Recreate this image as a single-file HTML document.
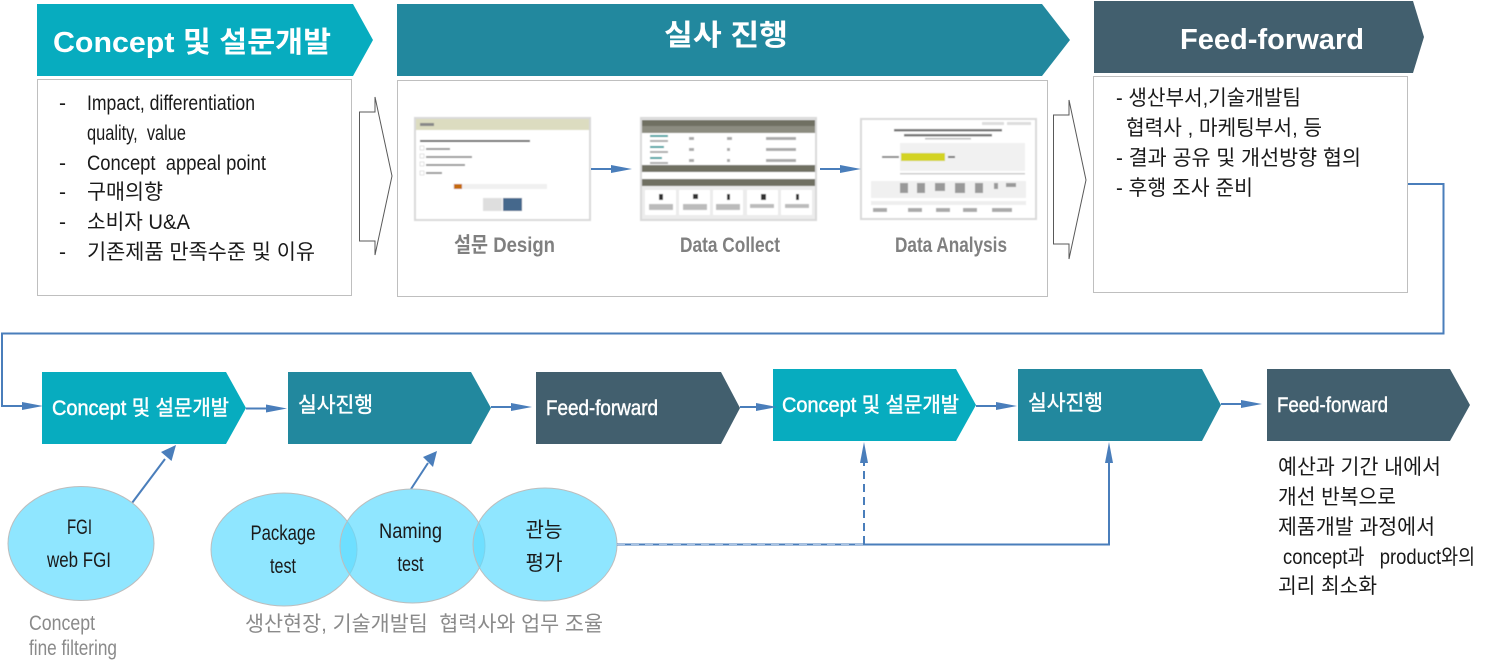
<!DOCTYPE html>
<html lang="ko"><head><meta charset="utf-8"><title>Concept 및 설문개발 프로세스</title>
<style>
html,body{margin:0;padding:0;background:#fff;width:1504px;height:669px;overflow:hidden}
svg{display:block}
text{font-family:"Liberation Sans","Noto Sans CJK KR",sans-serif}
.w{fill:#fff;font-weight:700}
.m{fill:#fff;font-size:21px;stroke:#fff;stroke-width:.45}
.b{fill:#1a1a1a;font-size:21px}
.g{fill:#808080;font-size:21px;font-weight:700}
.l{fill:#8a8a8a;font-size:21px}
.box{fill:#fff;stroke:#bfbfbf;stroke-width:1}
.sh{fill:#fff;stroke:#d9d9d9;stroke-width:2}
.c{stroke:#4a7ebb;stroke-width:2;fill:none}
.ah{fill:#4a7ebb}
.cir{fill:#5fdcff;fill-opacity:.7;stroke:#bdbdbd;stroke-width:1}
</style></head><body>
<svg width="1504" height="669" viewBox="0 0 1504 669" xmlns="http://www.w3.org/2000/svg">
<defs><filter id="bl" x="-5%" y="-5%" width="110%" height="110%"><feGaussianBlur stdDeviation="0.45"/></filter></defs>
<!-- top chevrons -->
<polygon points="37,4 353,4 373,40 353,76 37,76" fill="#07acbf"/>
<polygon points="397,4 1042,4 1070,40 1042,76 397,76" fill="#22889e"/>
<polygon points="1094,1 1413,1 1424,37 1413,73 1094,73" fill="#425f6e"/>
<text class="w" x="53" y="52" font-size="29" textLength="278" lengthAdjust="spacingAndGlyphs">Concept 및 설문개발</text>
<text class="w" x="664" y="45" font-size="29" textLength="124" lengthAdjust="spacingAndGlyphs">실사 진행</text>
<text class="w" x="1180" y="49" font-size="29" textLength="184" lengthAdjust="spacingAndGlyphs">Feed-forward</text>
<!-- boxes -->
<rect class="box" x="37.5" y="79.5" width="314" height="216"/>
<rect class="box" x="397.5" y="80.5" width="650" height="216"/>
<rect class="box" x="1093.5" y="76.5" width="314" height="216"/>
<!-- left text -->
<g class="b">
<text x="59" y="110">-</text><text x="87" y="110" textLength="168" lengthAdjust="spacingAndGlyphs">Impact, differentiation</text>
<text x="87" y="140" textLength="99" lengthAdjust="spacingAndGlyphs">quality,&#160;&#160;value</text>
<text x="59" y="170">-</text><text x="87" y="170" textLength="179" lengthAdjust="spacingAndGlyphs">Concept&#160;&#160;appeal point</text>
<text x="59" y="199">-</text><text x="87" y="199" textLength="76" lengthAdjust="spacingAndGlyphs">구매의향</text>
<text x="59" y="229">-</text><text x="87" y="229" textLength="103" lengthAdjust="spacingAndGlyphs">소비자 U&amp;A</text>
<text x="59" y="259">-</text><text x="87" y="259" textLength="228" lengthAdjust="spacingAndGlyphs">기존제품 만족수준 및 이유</text>
</g>
<!-- hollow arrows -->
<polygon points="359.5,112 375,112 375,97 392,176 375,255 375,241 359.5,241" fill="#fff" stroke="#595959" stroke-width="1"/>
<polygon points="1053.5,115 1069,115 1069,100 1086,180 1069,259 1069,244 1053.5,244" fill="#fff" stroke="#595959" stroke-width="1"/>
<!-- screenshot 1 -->
<g filter="url(#bl)">
<rect class="sh" x="415" y="118" width="175" height="102"/>
<rect x="416" y="119" width="173" height="11" fill="#dcdcc0"/>
<rect x="420" y="123" width="14" height="3" fill="#888"/>
<rect x="420" y="140" width="110" height="2" fill="#666"/>
<g fill="#fff" stroke="#ddd" stroke-width=".8"><rect x="420" y="146" width="4" height="4"/><rect x="420" y="154" width="4" height="4"/><rect x="420" y="162" width="4" height="4"/><rect x="420" y="171" width="4" height="4"/></g>
<g fill="#999"><rect x="426" y="148" width="24" height="2"/><rect x="426" y="156" width="46" height="2"/><rect x="426" y="164" width="39" height="2"/><rect x="426" y="172" width="16" height="2"/></g>
<rect x="453" y="184" width="94" height="5" fill="#f0f0f0"/><rect x="454" y="184" width="8" height="5" fill="#c46a10"/>
<rect x="483" y="198" width="19" height="13" fill="#dedede"/><rect x="503" y="198" width="19" height="13" fill="#44688c"/>
</g>
<!-- screenshot 2 -->
<g filter="url(#bl)">
<rect x="641" y="118" width="175" height="102" fill="#ececec" stroke="#d9d9d9" stroke-width="2"/>
<rect x="642" y="120" width="173" height="6" fill="#6f6f62"/><rect x="642" y="126" width="173" height="7" fill="#8c8c80"/>
<rect x="642" y="133" width="173" height="32" fill="#fff"/>
<g fill="#3aa0a0"><rect x="650" y="135" width="18" height="2"/><rect x="650" y="146" width="14" height="2"/><rect x="650" y="157" width="12" height="2"/></g>
<g fill="#aaa"><rect x="650" y="140" width="18" height="2"/><rect x="650" y="151" width="18" height="2"/><rect x="650" y="162" width="18" height="2"/><rect x="689" y="137" width="5" height="3"/><rect x="689" y="148" width="5" height="3"/><rect x="689" y="159" width="5" height="3"/><rect x="727" y="137" width="5" height="3"/><rect x="727" y="148" width="3" height="3"/><rect x="727" y="159" width="3" height="3"/><rect x="766" y="137" width="30" height="3"/><rect x="766" y="148" width="30" height="3"/><rect x="766" y="159" width="30" height="3"/></g>
<rect x="642" y="165" width="173" height="7" fill="#6f6f62"/><rect x="642" y="172" width="173" height="7" fill="#fff"/><rect x="642" y="179" width="173" height="7" fill="#6f6f62"/>
<g fill="#fff"><rect x="645" y="190" width="31" height="25"/><rect x="679" y="190" width="31" height="25"/><rect x="713" y="190" width="30" height="25"/><rect x="747" y="190" width="31" height="25"/><rect x="781" y="190" width="31" height="25"/></g>
<g fill="#333"><rect x="659" y="194" width="4" height="6"/><rect x="693" y="194" width="5" height="5"/><rect x="727" y="194" width="3" height="6"/><rect x="761" y="194" width="5" height="6"/><rect x="796" y="194" width="3" height="6"/></g>
<g fill="#bbb"><rect x="649" y="204" width="24" height="6"/><rect x="683" y="204" width="24" height="6"/><rect x="716" y="204" width="24" height="6"/><rect x="750" y="204" width="24" height="4"/><rect x="785" y="204" width="24" height="4"/></g>
</g>
<!-- screenshot 3 -->
<g filter="url(#bl)">
<rect class="sh" x="861" y="119" width="175" height="100"/>
<rect x="982" y="122" width="22" height="3" fill="#ddd"/><rect x="1007" y="122" width="24" height="3" fill="#ddd"/>
<rect x="894" y="129" width="108" height="2.5" fill="#777"/><rect x="904" y="134" width="88" height="2.5" fill="#777"/><rect x="925" y="138" width="46" height="1.5" fill="#bbb"/>
<rect x="900" y="143" width="125" height="28" fill="#f1f1f1"/>
<rect x="901" y="153" width="44" height="8" fill="#d3d321"/>
<rect x="882" y="156" width="17" height="2" fill="#888"/><rect x="948" y="156" width="7" height="2" fill="#777"/>
<rect x="900" y="173" width="125" height="1.5" fill="#ccc"/>
<rect x="871" y="181" width="155" height="17" fill="#f0f0f0"/>
<g fill="#999"><rect x="900" y="183" width="8" height="10"/><rect x="917" y="183" width="8" height="10"/><rect x="935" y="183" width="10" height="8"/><rect x="955" y="183" width="10" height="10"/><rect x="975" y="183" width="8" height="10"/><rect x="994" y="183" width="4" height="6"/><rect x="1006" y="183" width="10" height="4"/></g>
<rect x="871" y="201" width="155" height="4" fill="#eee"/>
<g fill="#aaa"><rect x="873" y="208" width="14" height="4"/><rect x="908" y="208" width="14" height="4"/><rect x="936" y="208" width="14" height="4"/><rect x="963" y="208" width="14" height="4"/><rect x="992" y="208" width="20" height="4"/></g>
</g>
<!-- small arrows -->
<path class="c" d="M591 169H612"/><polygon class="ah" points="611,165 632,169 611,173"/>
<path class="c" d="M820 169H841"/><polygon class="ah" points="840,165 861,169 840,173"/>
<text class="g" x="454" y="252" textLength="101" lengthAdjust="spacingAndGlyphs">설문 Design</text>
<text class="g" x="680" y="252" textLength="100" lengthAdjust="spacingAndGlyphs">Data Collect</text>
<text class="g" x="895" y="252" textLength="112" lengthAdjust="spacingAndGlyphs">Data Analysis</text>
<!-- right text -->
<g class="b">
<text x="1116" y="105" textLength="185" lengthAdjust="spacingAndGlyphs">- 생산부서,기술개발팀</text>
<text x="1126" y="135" textLength="196" lengthAdjust="spacingAndGlyphs">협력사 , 마케팅부서, 등</text>
<text x="1116" y="165" textLength="245" lengthAdjust="spacingAndGlyphs">- 결과 공유 및 개선방향 협의</text>
<text x="1116" y="195" textLength="137" lengthAdjust="spacingAndGlyphs">- 후행 조사 준비</text>
</g>
<!-- long connector -->
<path class="c" d="M1408 184H1443.5V333.5H2V406H24"/><polygon class="ah" points="22,402 43,406 22,410"/>
<!-- lower chevrons -->
<polygon points="42,372 226,372 246,408 226,444 42,444" fill="#07acbf"/>
<polygon points="288,372 471,372 491,408 471,444 288,444" fill="#22889e"/>
<polygon points="536,372 721,372 740,408 721,444 536,444" fill="#425f6e"/>
<polygon points="773,369 956,369 976,405 956,441 773,441" fill="#07acbf"/>
<polygon points="1018,369 1202,369 1221,405 1202,441 1018,441" fill="#22889e"/>
<polygon points="1267,369 1450,369 1470,405 1450,441 1267,441" fill="#425f6e"/>
<g class="m">
<text x="52" y="415" textLength="177" lengthAdjust="spacingAndGlyphs">Concept 및 설문개발</text>
<text x="298" y="412" textLength="75" lengthAdjust="spacingAndGlyphs">실사진행</text>
<text x="546" y="415" textLength="112" lengthAdjust="spacingAndGlyphs">Feed-forward</text>
<text x="782" y="412" textLength="177" lengthAdjust="spacingAndGlyphs">Concept 및 설문개발</text>
<text x="1028" y="410" textLength="75" lengthAdjust="spacingAndGlyphs">실사진행</text>
<text x="1277" y="412" textLength="111" lengthAdjust="spacingAndGlyphs">Feed-forward</text>
</g>
<!-- chevron connectors -->
<path class="c" d="M246 408.500H268"/><polygon class="ah" points="266,404.500 287,408.500 266,412.500"/>
<path class="c" d="M491 407H512"/><polygon class="ah" points="511,403 532,407 511,411"/>
<path class="c" d="M740 407H758"/><polygon class="ah" points="756,403 777,407 756,411"/>
<path class="c" d="M976 406H998"/><polygon class="ah" points="996,402 1017,406 996,410"/>
<path class="c" d="M1221 404H1243"/><polygon class="ah" points="1241,400 1262,404 1241,408"/>
<!-- up arrows -->
<path class="c" d="M132 503L165 459"/><polygon class="ah" points="161,452 176,445 171.500,461"/>
<path class="c" d="M411 489L428 463"/><polygon class="ah" points="423,457 437,451 433,467"/>
<!-- circles -->
<ellipse class="cir" cx="81" cy="543.500" rx="73" ry="57"/>
<ellipse class="cir" cx="284" cy="549.500" rx="73" ry="56.500"/>
<ellipse class="cir" cx="412.500" cy="546" rx="72.500" ry="57"/>
<ellipse class="cir" cx="545" cy="544.500" rx="72" ry="56.500"/>
<g class="b" text-anchor="middle">
<text x="79.500" y="534" textLength="25" lengthAdjust="spacingAndGlyphs">FGI</text>
<text x="79" y="567" textLength="64" lengthAdjust="spacingAndGlyphs">web FGI</text>
<text x="283" y="540" textLength="65" lengthAdjust="spacingAndGlyphs">Package</text>
<text x="283" y="573" textLength="26" lengthAdjust="spacingAndGlyphs">test</text>
<text x="410.500" y="538" textLength="63" lengthAdjust="spacingAndGlyphs">Naming</text>
<text x="410.500" y="571" textLength="26" lengthAdjust="spacingAndGlyphs">test</text>
<text x="544" y="537" textLength="37" lengthAdjust="spacingAndGlyphs">관능</text>
<text x="544" y="570" textLength="37" lengthAdjust="spacingAndGlyphs">평가</text>
</g>
<!-- merge connectors -->
<path class="c" d="M617 544.500H1109V460"/><polygon class="ah" points="1105,463 1109,442 1113,463"/>
<path d="M617 544.500H864" stroke="#a9c3e4" stroke-width="1" stroke-dasharray="8 6" fill="none"/>
<path class="c" d="M864 544V462" stroke-dasharray="8 5"/><polygon class="ah" points="860,463 864,442 868,463"/>
<!-- labels -->
<text class="l" x="29" y="630" textLength="66" lengthAdjust="spacingAndGlyphs">Concept</text>
<text class="l" x="29" y="655" textLength="88" lengthAdjust="spacingAndGlyphs">fine filtering</text>
<text class="l" x="245" y="631" textLength="358" lengthAdjust="spacingAndGlyphs">생산현장, 기술개발팀&#160;&#160;협력사와 업무 조율</text>
<g class="b">
<text x="1278" y="474" textLength="163" lengthAdjust="spacingAndGlyphs">예산과 기간 내에서</text>
<text x="1278" y="504" textLength="118" lengthAdjust="spacingAndGlyphs">개선 반복으로</text>
<text x="1278" y="534" textLength="157" lengthAdjust="spacingAndGlyphs">제품개발 과정에서</text>
<text x="1283" y="564" textLength="192" lengthAdjust="spacingAndGlyphs">concept과&#160;&#160;&#160;product와의</text>
<text x="1278" y="593" textLength="99" lengthAdjust="spacingAndGlyphs">괴리 최소화</text>
</g>
</svg>
</body></html>
